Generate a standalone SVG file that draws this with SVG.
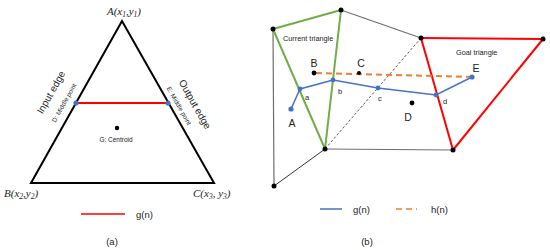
<svg xmlns="http://www.w3.org/2000/svg" width="550" height="250" viewBox="0 0 550 250">
<style>
text{font-family:"Liberation Sans",Arial,sans-serif;fill:#222}
.math{font-family:"Liberation Serif","DejaVu Serif",serif;font-style:italic;font-size:11px}
.sub{font-size:7.5px}
.blk{fill:#000}
.blu{fill:#4472C4}
.gray{stroke:#6e6e6e;stroke-width:1.2;fill:none}
.grn{stroke:#70AD47;stroke-width:2;fill:none}
.red{stroke:#FF0000;stroke-width:2;fill:none}
.bpath{stroke:#4472C4;stroke-width:1.5;fill:none}
.opath{stroke:#ED7D31;stroke-width:2;stroke-dasharray:6,4;fill:none}
.lbl{font-size:10.5px}
.sm{font-size:7.5px}
</style>
<rect width="550" height="250" fill="#fff"/>

<!-- Panel (a) -->
<g id="triangle-a">
<polygon points="122,21 31,183 214,183" fill="none" stroke="#000" stroke-width="2"/>
</g>
<g id="connectors-a">
<line x1="76" y1="103" x2="168" y2="103" stroke="#FF0000" stroke-width="2"/>
</g>
<g id="node-D"><circle cx="76" cy="103" r="2.6" class="blu"/>
<text transform="translate(66,104) rotate(-60.7)" text-anchor="middle" font-size="6.5">D: Middle point</text></g>
<g id="node-E"><circle cx="168" cy="103" r="2.6" class="blu"/>
<text transform="translate(177,107) rotate(60.4)" text-anchor="middle" font-size="6.5">E: Middle point</text></g>
<g id="node-G"><circle cx="117" cy="128" r="2.2" class="blk"/>
<text x="116" y="142" text-anchor="middle" font-size="6.5">G: Centroid</text></g>
<g id="edge-labels">
<text transform="translate(54,94) rotate(-60.7)" text-anchor="middle" font-size="10">Input edge</text>
<text transform="translate(192,106) rotate(60.4)" text-anchor="middle" font-size="10">Output edge</text>
</g>
<g id="vertex-labels">
<text class="math" x="124" y="15" text-anchor="middle">A(x<tspan class="sub" dy="2">1</tspan><tspan dy="-2">,y</tspan><tspan class="sub" dy="2">1</tspan><tspan dy="-2">)</tspan></text>
<text class="math" x="4" y="197">B(x<tspan class="sub" dy="2">2</tspan><tspan dy="-2">,y</tspan><tspan class="sub" dy="2">2</tspan><tspan dy="-2">)</tspan></text>
<text class="math" x="193" y="197">C(x<tspan class="sub" dy="2">3</tspan><tspan dy="-2">, y</tspan><tspan class="sub" dy="2">3</tspan><tspan dy="-2">)</tspan></text>
</g>
<g id="legend-a">
<line x1="81" y1="214" x2="125" y2="214" stroke="#FF0000" stroke-width="1.5"/>
<text x="136" y="217.5" font-size="9.5">g(n)</text>
<text x="112" y="245" text-anchor="middle" font-size="9.5">(a)</text>
</g>

<!-- Panel (b) -->
<g id="connectors-b">
<line x1="273" y1="29" x2="274" y2="186" class="gray"/>
<line x1="341" y1="10" x2="421" y2="38" class="gray"/>
<line x1="325" y1="149" x2="453" y2="150" class="gray"/>
<line x1="325" y1="149" x2="274" y2="186" stroke="#333" stroke-width="1"/>
<line x1="421" y1="38" x2="325" y2="149" stroke="#444" stroke-width="0.9" stroke-dasharray="2.5,2"/>
<line x1="273" y1="29" x2="341" y2="10" class="grn"/>
<line x1="341" y1="10" x2="325" y2="149" class="grn"/>
<line x1="273" y1="29" x2="325" y2="149" class="grn"/>
<line x1="421" y1="38" x2="543" y2="39" class="red"/>
<line x1="543" y1="39" x2="453" y2="150" class="red"/>
<line x1="421" y1="38" x2="453" y2="150" class="red"/>
<polyline points="291,109 300,89 333,80 378,88 436,95 472,77" class="bpath"/>
<line x1="316" y1="73" x2="472" y2="77" class="opath"/>
</g>
<g id="mesh-nodes">
<circle cx="273" cy="29" r="2.5" class="blk"/>
<circle cx="341" cy="10" r="2.5" class="blk"/>
<circle cx="421" cy="38" r="2.5" class="blk"/>
<circle cx="543" cy="39" r="2.5" class="blk"/>
<circle cx="325" cy="149" r="2.5" class="blk"/>
<circle cx="453" cy="150" r="2.5" class="blk"/>
<circle cx="274" cy="186" r="2.5" class="blk"/>
</g>
<g id="triangle-labels">
<text x="283" y="41" font-size="7.3">Current triangle</text>
<text x="456" y="55" font-size="7.3">Goal triangle</text>
</g>
<g id="node-A"><circle cx="291" cy="109" r="2.6" class="blu"/><text x="292" y="127" text-anchor="middle" class="lbl">A</text></g>
<g id="node-a"><circle cx="300" cy="89" r="2.4" class="blu"/><text x="305" y="100" class="sm">a</text></g>
<g id="node-b"><circle cx="333" cy="80" r="2.4" class="blu"/><text x="338" y="94" class="sm">b</text></g>
<g id="node-c"><circle cx="378" cy="88" r="2.4" class="blu"/><text x="378" y="101" class="sm">c</text></g>
<g id="node-d"><circle cx="436" cy="95" r="2.4" class="blu"/><text x="443" y="104" class="sm">d</text></g>
<g id="node-E2"><circle cx="472" cy="77" r="2.6" class="blu"/><text x="476" y="72" text-anchor="middle" class="lbl">E</text></g>
<g id="node-B2"><circle cx="314" cy="73" r="2.4" class="blk"/><text x="314" y="67" text-anchor="middle" class="lbl">B</text></g>
<g id="node-C2"><circle cx="359" cy="73" r="2" class="blk"/><text x="361" y="67" text-anchor="middle" class="lbl">C</text></g>
<g id="node-D2"><circle cx="412" cy="103" r="2.4" class="blk"/><text x="408" y="121" text-anchor="middle" class="lbl">D</text></g>
<g id="legend-b">
<line x1="320" y1="209" x2="342" y2="209" stroke="#4472C4" stroke-width="1.5"/>
<text x="353" y="212.5" font-size="9.5">g(n)</text>
<line x1="396" y1="209" x2="417" y2="209" stroke="#ED7D31" stroke-width="1.5" stroke-dasharray="6,4"/>
<text x="431" y="212.5" font-size="9.5">h(n)</text>
<text x="367" y="245" text-anchor="middle" font-size="9.5">(b)</text>
</g>
</svg>
